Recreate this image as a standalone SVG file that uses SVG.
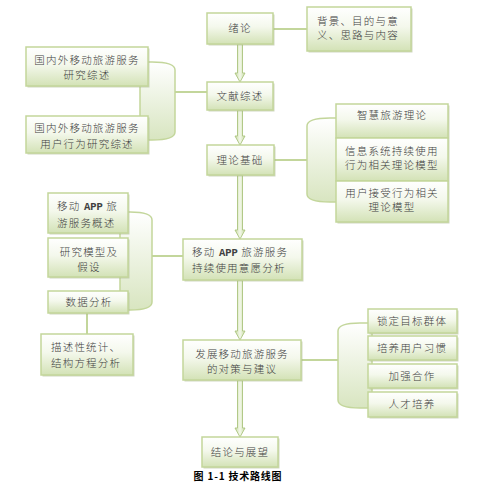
<svg xmlns="http://www.w3.org/2000/svg" width="488" height="494" viewBox="0 0 488 494">
<defs>
<linearGradient id="boxg" x1="0" y1="0" x2="0" y2="1">
<stop offset="0" stop-color="#ffffff"/>
<stop offset="0.45" stop-color="#f4f8ec"/>
<stop offset="1" stop-color="#d3e2b6"/>
</linearGradient>
<linearGradient id="brg" x1="0" y1="0" x2="0" y2="1">
<stop offset="0" stop-color="#ffffff"/>
<stop offset="1" stop-color="#d8e5c0"/>
</linearGradient>
<linearGradient id="arrg" x1="0" y1="0" x2="1" y2="0">
<stop offset="0" stop-color="#c9dba6"/>
<stop offset="0.5" stop-color="#f3f8ea"/>
<stop offset="1" stop-color="#c9dba6"/>
</linearGradient>
</defs>
<style>
.b{fill:url(#boxg);stroke:#c3d69b;stroke-width:1.5}
.s{fill:#a9b78f;opacity:0.55}
.br{fill:url(#brg);stroke:#c3d69b;stroke-width:1.5}
.ln{stroke:#c3d69b;stroke-width:2;fill:none}
.ar{fill:url(#arrg);stroke:#aac47e;stroke-width:0.9}
text{font-family:"Noto Sans CJK SC","Liberation Serif",sans-serif;font-size:10.5px;font-weight:300;fill:#404040;letter-spacing:1.2px}
.c{text-anchor:middle}
.ap{font-family:"Liberation Mono",monospace;font-weight:bold;letter-spacing:0}
.cap{font-family:"Noto Sans CJK SC",sans-serif;font-size:10px;fill:#000;font-weight:bold;letter-spacing:0.8px}
</style>

<g id="connectors">
<line class="ln" x1="273" y1="29" x2="307" y2="29"/>
<line class="ln" x1="174" y1="92" x2="207" y2="92"/>
<line class="ln" x1="274" y1="160" x2="307" y2="160"/>
<line class="ln" x1="151" y1="256" x2="183" y2="256"/>
<line class="ln" x1="87" y1="313" x2="87" y2="334"/>
<line class="ln" x1="301" y1="360" x2="338" y2="360"/>
<path class="ar" d="M237.5,44 L237.5,73 L235,73 L240,82 L245,73 L242.5,73 L242.5,44 Z"/>
<path class="ar" d="M237.5,110 L237.5,136 L235,136 L240,145 L245,136 L242.5,136 L242.5,110 Z"/>
<path class="ar" d="M237.5,175 L237.5,230 L235,230 L240,239 L245,230 L242.5,230 L242.5,175 Z"/>
<path class="ar" d="M237.5,280 L237.5,331 L235,331 L240,340 L245,331 L242.5,331 L242.5,280 Z"/>
<path class="ar" d="M237.5,380 L237.5,428 L235,428 L240,437 L245,428 L242.5,428 L242.5,380 Z"/>
</g>

<g id="bracket-left1"><path class="br" d="M140,62 L152,62 Q175,62 175,70 L175,132 Q175,140 152,140 L140,140 Z"/></g>
<g id="bracket-right1"><path class="br" d="M340,118 L330,118 Q307,118 307,126 L307,194 Q307,202 330,202 L340,202 Z"/></g>
<g id="bracket-left2"><path class="br" d="M120,212 L130,212 Q152,212 152,220 L152,302 Q152,310 130,310 L120,310 Z"/></g>
<g id="bracket-right2"><path class="br" d="M372,323 L360,323 Q338,323 338,331 L338,400 Q338,408 360,408 L372,408 Z"/></g>

<g id="n-xulun"><rect class="s" x="208.5" y="14.5" width="66" height="31"/><rect class="b" x="207" y="13" width="66" height="31"/><text class="c" x="240" y="32">绪论</text></g>
<g id="n-beijing"><rect class="s" x="308.5" y="8.5" width="104" height="44"/><rect class="b" x="307" y="7" width="104" height="44"/><text x="317" y="25">背景、目的与意</text><text x="317" y="39">义、思路与内容</text></g>
<g id="n-wenxian"><rect class="s" x="208.5" y="83.5" width="66" height="28"/><rect class="b" x="207" y="82" width="66" height="28"/><text class="c" x="240" y="100">文献综述</text></g>
<g id="n-guonei1"><rect class="s" x="27.5" y="48.5" width="122" height="39"/><rect class="b" x="26" y="47" width="122" height="39"/><text class="c" x="87" y="64">国内外移动旅游服务</text><text class="c" x="87" y="79">研究综述</text></g>
<g id="n-guonei2"><rect class="s" x="27.5" y="117.5" width="122" height="37"/><rect class="b" x="26" y="116" width="122" height="37"/><text class="c" x="87" y="132">国内外移动旅游服务</text><text class="c" x="87" y="148">用户行为研究综述</text></g>
<g id="n-lilun"><rect class="s" x="208.5" y="146.5" width="67" height="30"/><rect class="b" x="207" y="145" width="67" height="30"/><text class="c" x="240" y="164">理论基础</text></g>
<g id="n-zhihui"><rect class="s" x="337.5" y="105.5" width="112" height="34"/><rect class="b" x="336" y="104" width="112" height="34"/><text class="c" x="392" y="119">智慧旅游理论</text></g>
<g id="n-xinxi"><rect class="s" x="337.5" y="139.5" width="112" height="43"/><rect class="b" x="336" y="138" width="112" height="43"/><text x="345" y="155">信息系统持续使用</text><text x="345" y="169">行为相关理论模型</text></g>
<g id="n-yonghu"><rect class="s" x="337.5" y="182.5" width="112" height="41"/><rect class="b" x="336" y="181" width="112" height="41"/><text class="c" x="392" y="197">用户接受行为相关</text><text class="c" x="392" y="211">理论模型</text></g>
<g id="n-yidong"><rect class="s" x="184.5" y="240.5" width="119" height="41"/><rect class="b" x="183" y="239" width="119" height="41"/><text x="192" y="256">移动 <tspan class="ap">APP</tspan> 旅游服务</text><text x="192" y="272">持续使用意愿分析</text></g>
<g id="n-gaishu"><rect class="s" x="49.5" y="194.5" width="80" height="40"/><rect class="b" x="48" y="193" width="80" height="40"/><text x="57" y="210">移动 <tspan class="ap">APP</tspan> 旅</text><text x="57" y="227">游服务概述</text></g>
<g id="n-moxing"><rect class="s" x="49.5" y="239.5" width="80" height="39"/><rect class="b" x="48" y="238" width="80" height="39"/><text class="c" x="89" y="256">研究模型及</text><text class="c" x="89" y="271">假设</text></g>
<g id="n-shuju"><rect class="s" x="49.5" y="292.5" width="80" height="22"/><rect class="b" x="48" y="291" width="80" height="22"/><text class="c" x="89" y="306">数据分析</text></g>
<g id="n-miaoshu"><rect class="s" x="42.5" y="335.5" width="92" height="41"/><rect class="b" x="41" y="334" width="92" height="41"/><text x="51" y="351">描述性统计、</text><text x="51" y="367">结构方程分析</text></g>
<g id="n-fazhan"><rect class="s" x="184.5" y="341.5" width="118" height="40"/><rect class="b" x="183" y="340" width="118" height="40"/><text class="c" x="242" y="358">发展移动旅游服务</text><text class="c" x="242" y="373">的对策与建议</text></g>
<g id="n-suoding"><rect class="s" x="369.5" y="310.5" width="89" height="24"/><rect class="b" x="368" y="309" width="89" height="24"/><text class="c" x="412" y="325">锁定目标群体</text></g>
<g id="n-peiyang"><rect class="s" x="369.5" y="337.5" width="89" height="24"/><rect class="b" x="368" y="336" width="89" height="24"/><text class="c" x="412" y="352">培养用户习惯</text></g>
<g id="n-jiaqiang"><rect class="s" x="369.5" y="365.5" width="89" height="24"/><rect class="b" x="368" y="364" width="89" height="24"/><text class="c" x="412" y="380">加强合作</text></g>
<g id="n-rencai"><rect class="s" x="369.5" y="393.5" width="89" height="25"/><rect class="b" x="368" y="392" width="89" height="25"/><text class="c" x="412" y="408">人才培养</text></g>
<g id="n-jielun"><rect class="s" x="203.5" y="438.5" width="76" height="30"/><rect class="b" x="202" y="437" width="76" height="30"/><text class="c" x="240" y="456">结论与展望</text></g>
<text class="cap c" x="238" y="480">图 1-1 技术路线图</text>
</svg>
